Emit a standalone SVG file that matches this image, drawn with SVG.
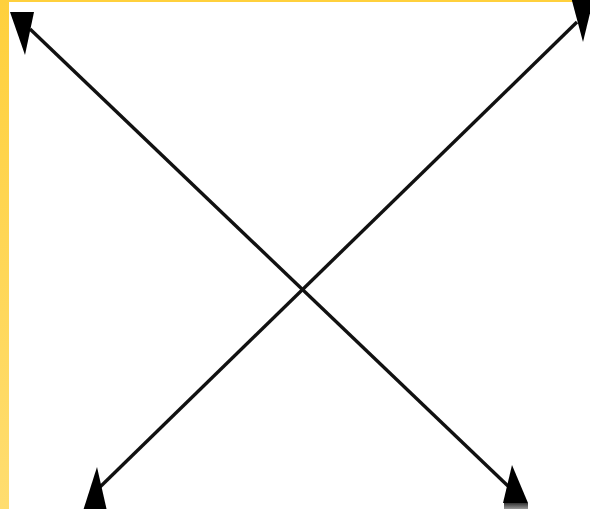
<svg xmlns="http://www.w3.org/2000/svg" width="590" height="509" viewBox="0 0 590 509">
  <defs>
    <linearGradient id="yb" x1="0" y1="0" x2="0" y2="1">
      <stop offset="0" stop-color="#ffd03c"/>
      <stop offset="1" stop-color="#ffdd70"/>
    </linearGradient>
    <linearGradient id="gb" x1="0" y1="0" x2="0" y2="1">
      <stop offset="0" stop-color="#333"/>
      <stop offset="1" stop-color="#999"/>
    </linearGradient>
    <style>
      .edge { stroke: #111; stroke-width: 3.4; fill: none; stroke-linecap: butt; }
      .head { fill: #000; }
    </style>
  </defs>
  <rect x="0" y="0" width="590" height="509" fill="#fff"/>
  <rect x="0" y="0" width="9" height="509" fill="url(#yb)"/>
  <rect x="0" y="0" width="590" height="2" fill="#ffd03c"/>
  <g id="connectors">
    <line class="edge" x1="30" y1="29" x2="508" y2="486"/>
    <line class="edge" x1="577" y1="22" x2="100" y2="487"/>
    <polygon class="head" points="10,12 34,12 25,55"/>
    <polygon class="head" points="571,-3 594,-3 583,42"/>
    <polygon class="head" points="97,467 83,511 107,511"/>
    <polygon class="head" points="512,465 503,503 528,503"/>
    <rect x="504" y="503" width="24" height="6" fill="url(#gb)"/>
  </g>
</svg>
